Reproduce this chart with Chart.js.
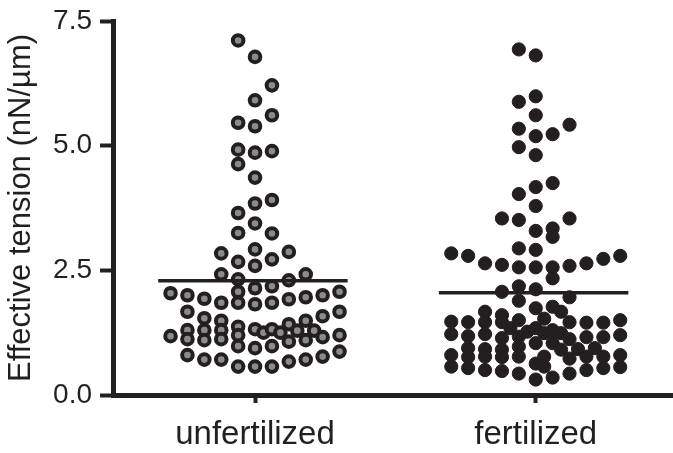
<!DOCTYPE html>
<html>
<head>
<meta charset="utf-8">
<script src="https://cdn.jsdelivr.net/npm/chart.js@4.4.1/dist/chart.umd.min.js"></script>
<style>
  html, body { margin: 0; padding: 0; background: #fff; overflow: hidden; }
  canvas { display: block; }
</style>
</head>
<body>
<canvas id="dotChart" width="673" height="453"></canvas>
<script>
const categories = ['unfertilized', 'fertilized'];
const yTicks = [0, 2.5, 5, 7.5];
const means = [2.29, 2.05];

// tension values and swarm column (offset from group centre, in dot widths)
const unfertY = [
    7.11, 6.78, 6.21, 5.91, 5.61, 5.46, 5.39, 4.92, 4.86, 4.89,
    4.63, 4.36, 3.91, 3.84, 3.65, 3.44, 3.25, 3.24, 2.84, 2.92,
    2.87, 2.67, 2.72, 2.59, 2.42, 2.42, 2.32, 2.30, 2.07, 2.14,
    2.18, 2.04, 2.00, 1.93, 1.85, 1.85, 1.82, 1.85, 1.92, 1.96,
    2.00, 2.07, 1.67, 1.54, 1.58, 1.67, 1.49, 1.49, 1.42, 1.37,
    1.32, 1.30, 1.30, 1.30, 1.20, 1.18, 1.12, 1.10, 1.12, 1.25,
    1.32, 1.25, 1.29, 1.29, 1.16, 1.20, 1.07, 1.10, 0.98, 0.94,
    0.98, 0.80, 0.71, 0.71, 0.57, 0.57, 0.57, 0.67, 0.71, 0.77,
    0.87
];
const unfertCol = [
    -1, 0, 1, 0, 1, -1, 0, -1, 0, 1,
    -1, 0, 1, 0, -1, 0, -1, 1, -2, 0,
    2, -1, 1, 0, -2, 3, -1, 2, -1, 0,
    1, -5, -4, -3, -2, -1, 0, 1, 2, 3,
    4, 5, -4, -3, 4, 5, -2, 3, 2, -1,
    0, -4, -3, -2, -1, -5, -4, -3, -2, 0.5,
    1, 1.5, 2.5, 3.5, 4, 5, 2, 3, -1, 0,
    1, -4, -3, -2, -1, 0, 1, 2, 3, 4,
    5
];

const fertY = [
    6.93, 6.81, 5.99, 5.88, 5.61, 5.42, 5.34, 5.23, 5.19, 4.97,
    4.81, 4.25, 4.17, 4.03, 3.79, 3.54, 3.51, 3.54, 3.29, 3.34,
    3.17, 2.94, 2.91, 2.84, 2.79, 2.64, 2.61, 2.56, 2.56, 2.56,
    2.59, 2.64, 2.73, 2.79, 2.34, 2.07, 2.18, 2.12, 1.89, 1.96,
    1.74, 1.77, 1.67, 1.67, 1.60, 1.47, 1.46, 1.46, 1.46, 1.50,
    1.34, 1.53, 1.46, 1.45, 1.45, 1.50, 1.22, 1.18, 1.22, 1.14,
    1.17, 1.27, 1.34, 1.24, 1.30, 1.24, 1.12, 1.16, 1.16, 1.20,
    0.94, 0.92, 0.91, 0.97, 1.04, 1.04, 0.91, 0.92, 0.94, 0.80,
    0.76, 0.77, 0.76, 0.77, 0.77, 0.73, 0.77, 0.77, 0.80, 0.57,
    0.54, 0.50, 0.48, 0.43, 0.63, 0.57, 0.43, 0.50, 0.54, 0.56,
    0.31, 0.35
];
const fertCol = [
    -1, 0, 0, -1, 0, 2, -1, 1, 0, -1,
    0, 1, 0, -1, 0, -2, -1, 2, 0, 1,
    1, -1, 0, -5, -4, -3, -2, -1, 0, 1,
    2, 3, 4, 5, 1, -2, -1, 0, -1, 2,
    0, 1, 1.5, -3, -2, -5, -4, -3, -2, -1,
    -1.5, 0.5, 2, 3, 4, 5, -5, -4, -3, -2,
    -1, -0.5, 0, 0.5, 1, 1.5, 2, 3, 4, 5,
    -4, -3, -2, -1, 0, 1, 1.5, 2.5, 3.5, -5,
    -4, -3, -2, -1, 0.5, 2, 3, 4, 5, -5,
    -4, -3, -2, -1, 0, 0.5, 2, 3, 4, 5,
    0, 1
];

const ink = '#231f20';
const colW = 0.0602;
const font = "'Liberation Sans', Arial, Helvetica, sans-serif";

function swarm(ys, cols, centre) {
    return ys.map((y, i) => ({ x: centre + cols[i] * colW, y: y }));
}
function meanLine(m, centre) {
    return [{ x: centre - 0.345, y: m }, { x: centre + 0.33, y: m }];
}

const ctx = document.getElementById('dotChart');
const dotChart = new Chart(ctx, {
    type: 'scatter',
    data: {
        datasets: [
            {
                type: 'line',
                data: meanLine(means[0], 1),
                borderColor: ink,
                borderWidth: 3.5,
                pointRadius: 0,
                order: 0
            },
            {
                type: 'line',
                data: meanLine(means[1], 2),
                borderColor: ink,
                borderWidth: 3.5,
                pointRadius: 0,
                order: 0
            },
            {
                label: categories[0],
                data: swarm(unfertY, unfertCol, 1),
                backgroundColor: '#8b8b8b',
                borderColor: ink,
                borderWidth: 4,
                pointRadius: 5.3,
                order: 1
            },
            {
                label: categories[1],
                data: swarm(fertY, fertCol, 2),
                backgroundColor: ink,
                borderColor: ink,
                borderWidth: 1,
                pointRadius: 6.6,
                order: 1
            }
        ]
    },
    options: {
        responsive: false,
        animation: false,
        layout: {
            autoPadding: false,
            padding: { left: 0, right: 0, top: 21, bottom: 0 }
        },
        plugins: {
            legend: { display: false },
            tooltip: { enabled: false }
        },
        scales: {
            x: {
                type: 'linear',
                min: 0.494,
                max: 2.489,
                afterBuildTicks: (axis) => { axis.ticks = [{ value: 1 }, { value: 2 }]; },
                afterFit: (axis) => {
                    axis.height = 58;
                    axis.paddingLeft = 0;
                    axis.paddingRight = 0;
                },
                ticks: {
                    callback: (v) => categories[Math.round(v) - 1],
                    color: ink,
                    padding: 12,
                    font: { family: font, size: 33 }
                },
                grid: {
                    drawOnChartArea: false,
                    drawTicks: true,
                    tickLength: 8,
                    tickWidth: 4,
                    color: ink
                },
                border: { display: true, width: 5, color: ink }
            },
            y: {
                min: 0,
                max: 7.5,
                afterBuildTicks: (axis) => { axis.ticks = yTicks.map(v => ({ value: v })); },
                afterFit: (axis) => {
                    axis.width = 113;
                    axis.paddingTop = 0;
                    axis.paddingBottom = 0;
                },
                ticks: {
                    callback: (v) => v.toFixed(1),
                    color: ink,
                    padding: 8,
                    font: { family: font, size: 28 }
                },
                grid: {
                    drawOnChartArea: false,
                    drawTicks: true,
                    tickLength: 13,
                    tickWidth: 4,
                    color: ink
                },
                border: { display: true, width: 5, color: ink },
                title: {
                    display: true,
                    text: 'Effective tension (nN/µm)',
                    color: ink,
                    padding: { top: 3, bottom: 0 },
                    font: { family: font, size: 31 }
                }
            }
        }
    }
});
</script>
</body>
</html>
